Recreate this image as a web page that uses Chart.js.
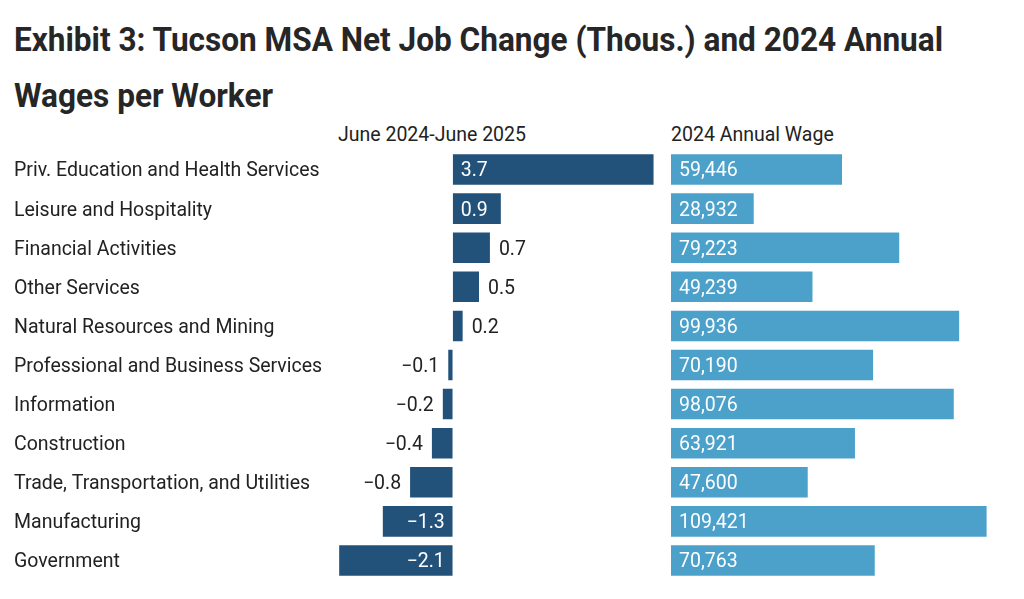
<!DOCTYPE html>
<html>
<head>
<meta charset="utf-8">
<script src="https://cdn.jsdelivr.net/npm/chart.js@4"></script>
<style>
  body { margin: 0; background: #fff; width: 1024px; height: 599px; overflow: hidden; position: relative; font-family: Roboto, sans-serif; color: #222; }
  .tline { position: absolute; left: 14px; font-family: Roboto, sans-serif; font-weight: bold; font-size: 34px; line-height: 34px; color: #262626; white-space: nowrap; }
  .tline span { display: inline-block; transform-origin: 0 0; }
  .head { position: absolute; top: 125px; font-size: 19.5px; line-height: 19.5px; color: #222; }
  #left { position: absolute; left: 0; top: 150px; }
  #right { position: absolute; left: 671px; top: 150px; }
</style>
</head>
<body>
<div class="tline" style="top:22px"><span id="t1">Exhibit 3: Tucson MSA Net Job Change (Thous.) and 2024 Annual</span></div>
<div class="tline" style="top:78px"><span id="t2">Wages per Worker</span></div>
<div class="head" style="left:338px">June 2024-June 2025</div>
<div class="head" style="left:671px">2024 Annual Wage</div>
<div id="left"><canvas id="c1" width="657" height="430"></canvas></div>
<div id="right"><canvas id="c2" width="353" height="430"></canvas></div>
<script>
const industries = ['Priv. Education and Health Services', 'Leisure and Hospitality', 'Financial Activities',
  'Other Services', 'Natural Resources and Mining', 'Professional and Business Services', 'Information',
  'Construction', 'Trade, Transportation, and Utilities', 'Manufacturing', 'Government'];
const jobChange = [3.7, 0.9, 0.7, 0.5, 0.2, -0.1, -0.2, -0.4, -0.8, -1.3, -2.1];
const annualWage = [59446, 28932, 79223, 49239, 99936, 70190, 98076, 63921, 47600, 109421, 70763];

const darkBlue = '#22517a';
const lightBlue = '#4ca1cb';
const labelFont = '19.5px Roboto';

// the title font is a narrow one, squeeze Roboto bold to the same line length
const t1 = document.getElementById('t1');
const squeeze = 929 / t1.getBoundingClientRect().width;
t1.style.transform = 'scaleX(' + squeeze + ')';
document.getElementById('t2').style.transform = 'scaleX(' + squeeze + ')';

// writes the value next to / inside each bar
const valueLabels = {
  id: 'valueLabels',
  afterDatasetsDraw(chart, args, opts) {
    const ctx = chart.ctx;
    const meta = chart.getDatasetMeta(0);
    const zero = chart.scales.x.getPixelForValue(0);
    ctx.save();
    ctx.font = labelFont;
    ctx.textBaseline = 'middle';
    meta.data.forEach((bar, i) => {
      const v = chart.data.datasets[0].data[i];
      const txt = opts.format(v);
      const w = Math.abs(bar.x - zero);
      const inside = w > opts.minInside;
      ctx.fillStyle = inside ? '#fff' : '#222';
      if (v >= 0) {
        ctx.textAlign = 'left';
        ctx.fillText(txt, inside ? zero + 8 : bar.x + 8, bar.y + 2);
      } else {
        ctx.textAlign = 'right';
        ctx.fillText(txt, inside ? zero - 8 : bar.x - 8, bar.y + 2);
      }
    });
    ctx.restore();
  }
};

const jobChart = new Chart(document.getElementById('c1'), {
  type: 'bar',
  data: {
    labels: industries,
    datasets: [{ data: jobChange, backgroundColor: darkBlue, borderColor: 'rgba(255,255,255,0.35)', borderWidth: 1,
      barPercentage: 0.833, categoryPercentage: 1 }]
  },
  plugins: [valueLabels],
  options: {
    indexAxis: 'y',
    responsive: false,
    animation: false,
    layout: { padding: { left: 14, top: 0, right: 0, bottom: 0 } },
    scales: {
      x: { display: false, min: -2.25, max: 3.745 },
      y: {
        grid: { display: false },
        border: { display: false },
        ticks: { crossAlign: 'far', color: '#222', font: { family: 'Roboto', size: 19.5 }, padding: 0, labelOffset: 2 },
        afterFit(scale) {
          scale.width = 316;
          scale.paddingTop = 0;
          scale.paddingBottom = 0;
        }
      }
    },
    plugins: {
      legend: { display: false },
      tooltip: { enabled: false },
      valueLabels: {
        minInside: 46,
        format: v => (v < 0 ? '\u2212' : '') + Math.abs(v).toFixed(1)
      }
    }
  }
});

const wageChart = new Chart(document.getElementById('c2'), {
  type: 'bar',
  data: {
    labels: industries,
    datasets: [{ data: annualWage, backgroundColor: lightBlue, borderColor: 'rgba(255,255,255,0.35)', borderWidth: 1,
      barPercentage: 0.833, categoryPercentage: 1 }]
  },
  plugins: [valueLabels],
  options: {
    indexAxis: 'y',
    responsive: false,
    animation: false,
    layout: { padding: 0 },
    scales: {
      x: { display: false, min: 0, max: 122000 },
      y: { display: false }
    },
    plugins: {
      legend: { display: false },
      tooltip: { enabled: false },
      valueLabels: {
        minInside: 0,
        format: v => v.toLocaleString('en-US')
      }
    }
  }
});
</script>
</body>
</html>
